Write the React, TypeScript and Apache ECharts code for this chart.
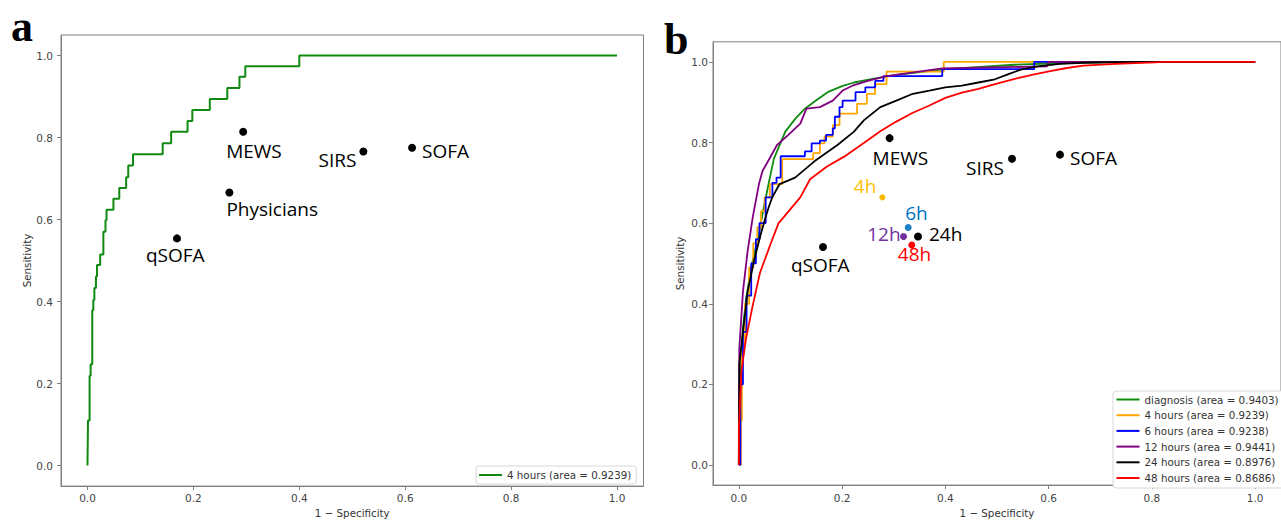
import React, { useEffect, useRef } from "react";
import * as echarts from "echarts";

// ---------- Panel a : single ROC curve (4 hours) ----------
const fprA = [0, 0.001, 0.004, 0.006, 0.009, 0.011, 0.013, 0.016, 0.018, 0.024, 0.026, 0.030, 0.034, 0.036, 0.049, 0.060, 0.073, 0.077, 0.086, 0.142, 0.158, 0.189, 0.198, 0.231, 0.264, 0.287, 0.298, 0.400, 1.0];
const tprA = [0, 0.110, 0.219, 0.247, 0.379, 0.404, 0.433, 0.461, 0.489, 0.515, 0.515, 0.570, 0.598, 0.624, 0.651, 0.677, 0.703, 0.732, 0.759, 0.786, 0.814, 0.840, 0.867, 0.894, 0.921, 0.948, 0.974, 1.0, 1.0];

const ptsANames = ["MEWS", "Physicians", "qSOFA", "SIRS", "SOFA"];
const ptsAFpr = [0.294, 0.268, 0.169, 0.521, 0.613];
const ptsATpr = [0.814, 0.666, 0.554, 0.766, 0.775];

// ---------- Panel b : six ROC curves ----------
const fprDiag = [0, 0.002, 0.005, 0.008, 0.014, 0.024, 0.039, 0.050, 0.058, 0.068, 0.090, 0.110, 0.128, 0.150, 0.172, 0.200, 0.223, 0.267, 0.305, 0.400, 0.534, 0.650, 0.800, 1.0];
const tprDiag = [0, 0.150, 0.270, 0.340, 0.410, 0.490, 0.575, 0.650, 0.700, 0.760, 0.827, 0.860, 0.884, 0.905, 0.925, 0.940, 0.949, 0.960, 0.968, 0.982, 0.993, 0.998, 1.0, 1.0];

const fpr4h = [0, 0.004, 0.006, 0.012, 0.020, 0.028, 0.036, 0.043, 0.050, 0.060, 0.084, 0.144, 0.157, 0.166, 0.182, 0.195, 0.229, 0.248, 0.264, 0.286, 0.397, 1.0];
const tpr4h = [0, 0.110, 0.300, 0.400, 0.490, 0.550, 0.590, 0.630, 0.664, 0.697, 0.759, 0.774, 0.798, 0.815, 0.843, 0.872, 0.896, 0.921, 0.945, 0.976, 1.0, 1.0];

const fpr6h = [0, 0.003, 0.008, 0.015, 0.024, 0.033, 0.040, 0.052, 0.065, 0.073, 0.081, 0.128, 0.141, 0.157, 0.169, 0.182, 0.186, 0.195, 0.201, 0.226, 0.245, 0.264, 0.280, 0.394, 0.572, 1.0];
const tpr6h = [0, 0.200, 0.330, 0.420, 0.500, 0.560, 0.600, 0.664, 0.700, 0.713, 0.766, 0.778, 0.798, 0.805, 0.819, 0.835, 0.864, 0.888, 0.904, 0.925, 0.937, 0.953, 0.965, 0.982, 1.0, 1.0];

const fpr12h = [0, 0.001, 0.008, 0.017, 0.027, 0.039, 0.046, 0.055, 0.074, 0.096, 0.119, 0.131, 0.157, 0.182, 0.201, 0.220, 0.250, 0.286, 0.394, 0.597, 0.600, 1.0];
const tpr12h = [0, 0.290, 0.430, 0.530, 0.615, 0.697, 0.730, 0.750, 0.794, 0.819, 0.847, 0.884, 0.888, 0.904, 0.929, 0.941, 0.953, 0.965, 0.984, 0.989, 1.0, 1.0];

const fpr24h = [0, 0.001, 0.008, 0.017, 0.030, 0.043, 0.052, 0.058, 0.065, 0.079, 0.109, 0.147, 0.191, 0.223, 0.242, 0.274, 0.305, 0.337, 0.369, 0.400, 0.432, 0.464, 0.496, 0.521, 0.546, 0.578, 0.622, 0.667, 0.756, 1.0];
const tpr24h = [0, 0.250, 0.330, 0.430, 0.510, 0.575, 0.615, 0.640, 0.665, 0.697, 0.713, 0.754, 0.794, 0.827, 0.855, 0.888, 0.904, 0.921, 0.929, 0.937, 0.941, 0.949, 0.957, 0.969, 0.981, 0.989, 0.995, 0.998, 1.0, 1.0];

const fpr48h = [0, 0, 0.005, 0.014, 0.027, 0.041, 0.062, 0.077, 0.087, 0.119, 0.138, 0.170, 0.204, 0.242, 0.274, 0.305, 0.337, 0.369, 0.400, 0.432, 0.464, 0.496, 0.540, 0.572, 0.603, 0.635, 0.667, 0.730, 0.806, 0.825, 1.0];
const tpr48h = [0, 0.086, 0.233, 0.314, 0.396, 0.477, 0.550, 0.600, 0.615, 0.664, 0.709, 0.740, 0.765, 0.799, 0.828, 0.852, 0.874, 0.892, 0.911, 0.924, 0.933, 0.945, 0.960, 0.969, 0.977, 0.985, 0.991, 0.995, 0.999, 1.0, 1.0];

const ptsBNames = ["MEWS", "4h", "6h", "12h", "24h", "48h", "qSOFA", "SIRS", "SOFA"];
const ptsBFpr = [0.292, 0.278, 0.328, 0.319, 0.347, 0.335, 0.163, 0.529, 0.622];
const ptsBTpr = [0.811, 0.664, 0.589, 0.567, 0.567, 0.546, 0.541, 0.760, 0.770];

const legendA = ["4 hours (area = 0.9239)"];
const legendB = [
  "diagnosis (area = 0.9403)",
  "4 hours (area = 0.9239)",
  "6 hours (area = 0.9238)",
  "12 hours (area = 0.9441)",
  "24 hours (area = 0.8976)",
  "48 hours (area = 0.8686)",
];
const tickValues = [0, 0.2, 0.4, 0.6, 0.8, 1.0];

// ---------- styles ----------
const lineColorsB = ["#118a11", "#ffa500", "#0000ff", "#800080", "#000000", "#ff0000"];
const stepB = [false, "end", "end", false, false, false];
const labelLayoutA: Record<string, [string, number, number]> = {
  MEWS: ["left", -17, 19],
  Physicians: ["left", -3, 17],
  qSOFA: ["left", -31, 17],
  SIRS: ["right", -7, 9],
  SOFA: ["left", 10, 3],
};
const labelLayoutB: Record<string, [string, number, number]> = {
  MEWS: ["left", -17, 20],
  "4h": ["right", -6, -11],
  "6h": ["left", -3, -15],
  "12h": ["right", -3, -2],
  "24h": ["left", 11, -2],
  "48h": ["left", -14, 9],
  qSOFA: ["left", -32, 18],
  SIRS: ["right", -8, 9],
  SOFA: ["left", 10, 3],
};
const dotColorB: Record<string, string> = { "4h": "#f5b800", "6h": "#1f7fc4", "12h": "#7030a0", "48h": "#ff0000" };
const textColorB: Record<string, string> = { "4h": "#ffc000", "6h": "#0070c0", "12h": "#7030a0", "48h": "#ff0000" };
const dotSizeB: Record<string, number> = { "4h": 6, "6h": 7, "12h": 7, "48h": 7 };

const FONT = "DejaVu Sans";
const AXIS_COLOR = "#808080";

function zip(xs: number[], ys: number[]) {
  return xs.map((x, i) => [x, ys[i]]);
}

function makeXAxis(gridIndex: number, nameGap: number, margin: number) {
  return {
    gridIndex,
    type: "value",
    min: -0.05,
    max: 1.05,
    name: "1 \u2212 Specificity",
    nameLocation: "middle",
    nameGap,
    nameTextStyle: { fontSize: 10.3, color: "#333", fontFamily: FONT },
    axisLine: { show: true, onZero: false, lineStyle: { color: AXIS_COLOR, width: 1 } },
    axisTick: { show: true, length: 4, customValues: tickValues, lineStyle: { color: AXIS_COLOR } },
    axisLabel: {
      customValues: tickValues,
      formatter: (v: number) => v.toFixed(1),
      margin,
      fontSize: 10.5,
      color: "#444",
      fontFamily: FONT,
    },
    splitLine: { show: false },
  };
}

function makeYAxis(gridIndex: number, nameGap: number, margin: number) {
  return {
    gridIndex,
    type: "value",
    min: -0.05,
    max: 1.05,
    name: "Sensitivity",
    nameLocation: "middle",
    nameRotate: 90,
    nameGap,
    nameTextStyle: { fontSize: 10.3, color: "#333", fontFamily: FONT },
    axisLine: { show: true, onZero: false, lineStyle: { color: AXIS_COLOR, width: 1 } },
    axisTick: { show: true, length: 4, customValues: tickValues, lineStyle: { color: AXIS_COLOR } },
    axisLabel: {
      customValues: tickValues,
      formatter: (v: number) => v.toFixed(1),
      margin,
      fontSize: 10.5,
      color: "#444",
      fontFamily: FONT,
    },
    splitLine: { show: false },
  };
}

function scatterData(names: string[], xs: number[], ys: number[], layout: Record<string, [string, number, number]>, dotColor: Record<string, string>, textColor: Record<string, string>, dotSize: Record<string, number>) {
  return names.map((n, i) => {
    const [align, dx, dy] = layout[n];
    return {
      name: n,
      value: [xs[i], ys[i]],
      symbolSize: dotSize[n] ?? 8,
      itemStyle: { color: dotColor[n] ?? "#000", opacity: 1 },
      label: {
        show: true,
        position: "inside",
        formatter: n,
        align,
        verticalAlign: "middle",
        offset: [dx, dy],
        color: textColor[n] ?? "#000",
        opacity: 1,
        fontSize: 19,
        fontFamily: "Open Sans",
      },
    };
  });
}

export default function App() {
  const ref = useRef<HTMLDivElement>(null);
  useEffect(() => {
    if (!ref.current) return;
    const chart = echarts.init(ref.current, null, { renderer: "svg" });
    const curvesB = [
      [fprDiag, tprDiag],
      [fpr4h, tpr4h],
      [fpr6h, tpr6h],
      [fpr12h, tpr12h],
      [fpr24h, tpr24h],
      [fpr48h, tpr48h],
    ];
    const legendCommon = {
      orient: "vertical",
      icon: "rect",
      itemWidth: 23,
      itemHeight: 2,
      itemGap: 3.7,
      borderColor: "#d8d8d8",
      borderWidth: 1,
      borderRadius: 3,
      backgroundColor: "#fff",
      selectedMode: false,
      textStyle: { fontSize: 10.3, fontFamily: FONT, color: "#333", lineHeight: 12 },
      formatter: (n: string) => n.replace(/^[AB]\|/, ""),
    };
    chart.setOption({
      animation: false,
      backgroundColor: "#fff",
      grid: [
        { left: 61, top: 35, width: 582.5, height: 454.3, show: true, borderColor: AXIS_COLOR, borderWidth: 1 },
        { left: 713, top: 41.8, width: 578.6, height: 450.8, show: true, borderColor: AXIS_COLOR, borderWidth: 1 },
      ],
      xAxis: [makeXAxis(0, 21, 6), makeXAxis(1, 20, 7)],
      yAxis: [makeYAxis(0, 28, 8), makeYAxis(1, 28, 5)],
      legend: [
        {
          ...legendCommon,
          left: 476,
          top: 466,
          padding: [3, 5, 3, 3],
          data: legendA.map((n) => "A|" + n),
        },
        {
          ...legendCommon,
          left: 1113,
          top: 391,
          padding: [2.5, 8, 4, 3.5],
          data: legendB.map((n) => "B|" + n),
        },
      ],
      graphic: [
        { type: "text", left: 11, top: 4, style: { text: "a", font: "bold 44px 'Liberation Serif'", fill: "#000" } },
        { type: "text", left: 664, top: 17, style: { text: "b", font: "bold 44px 'Liberation Serif'", fill: "#000" } },
      ],
      series: [
        {
          name: "A|" + legendA[0],
          type: "line",
          xAxisIndex: 0,
          yAxisIndex: 0,
          data: zip(fprA, tprA),
          step: "end",
          showSymbol: false,
          lineStyle: { color: "#118a11", width: 2 },
          itemStyle: { color: "#118a11" },
        },
        ...curvesB.map(([xs, ys], i) => ({
          name: "B|" + legendB[i],
          type: "line",
          xAxisIndex: 1,
          yAxisIndex: 1,
          data: zip(xs, ys),
          step: stepB[i],
          showSymbol: false,
          lineStyle: { color: lineColorsB[i], width: 1.8 },
          itemStyle: { color: lineColorsB[i] },
        })),
        {
          type: "scatter",
          xAxisIndex: 0,
          yAxisIndex: 0,
          z: 5,
          data: scatterData(ptsANames, ptsAFpr, ptsATpr, labelLayoutA, {}, {}, {}),
        },
        {
          type: "scatter",
          xAxisIndex: 1,
          yAxisIndex: 1,
          z: 5,
          data: scatterData(ptsBNames, ptsBFpr, ptsBTpr, labelLayoutB, dotColorB, textColorB, dotSizeB),
        },
      ],
    });
    return () => chart.dispose();
  }, []);
  return (
    <div
      ref={ref}
      style={{ position: "absolute", left: 0, top: 0, width: 1281, height: 523, overflow: "hidden" }}
    />
  );
}
